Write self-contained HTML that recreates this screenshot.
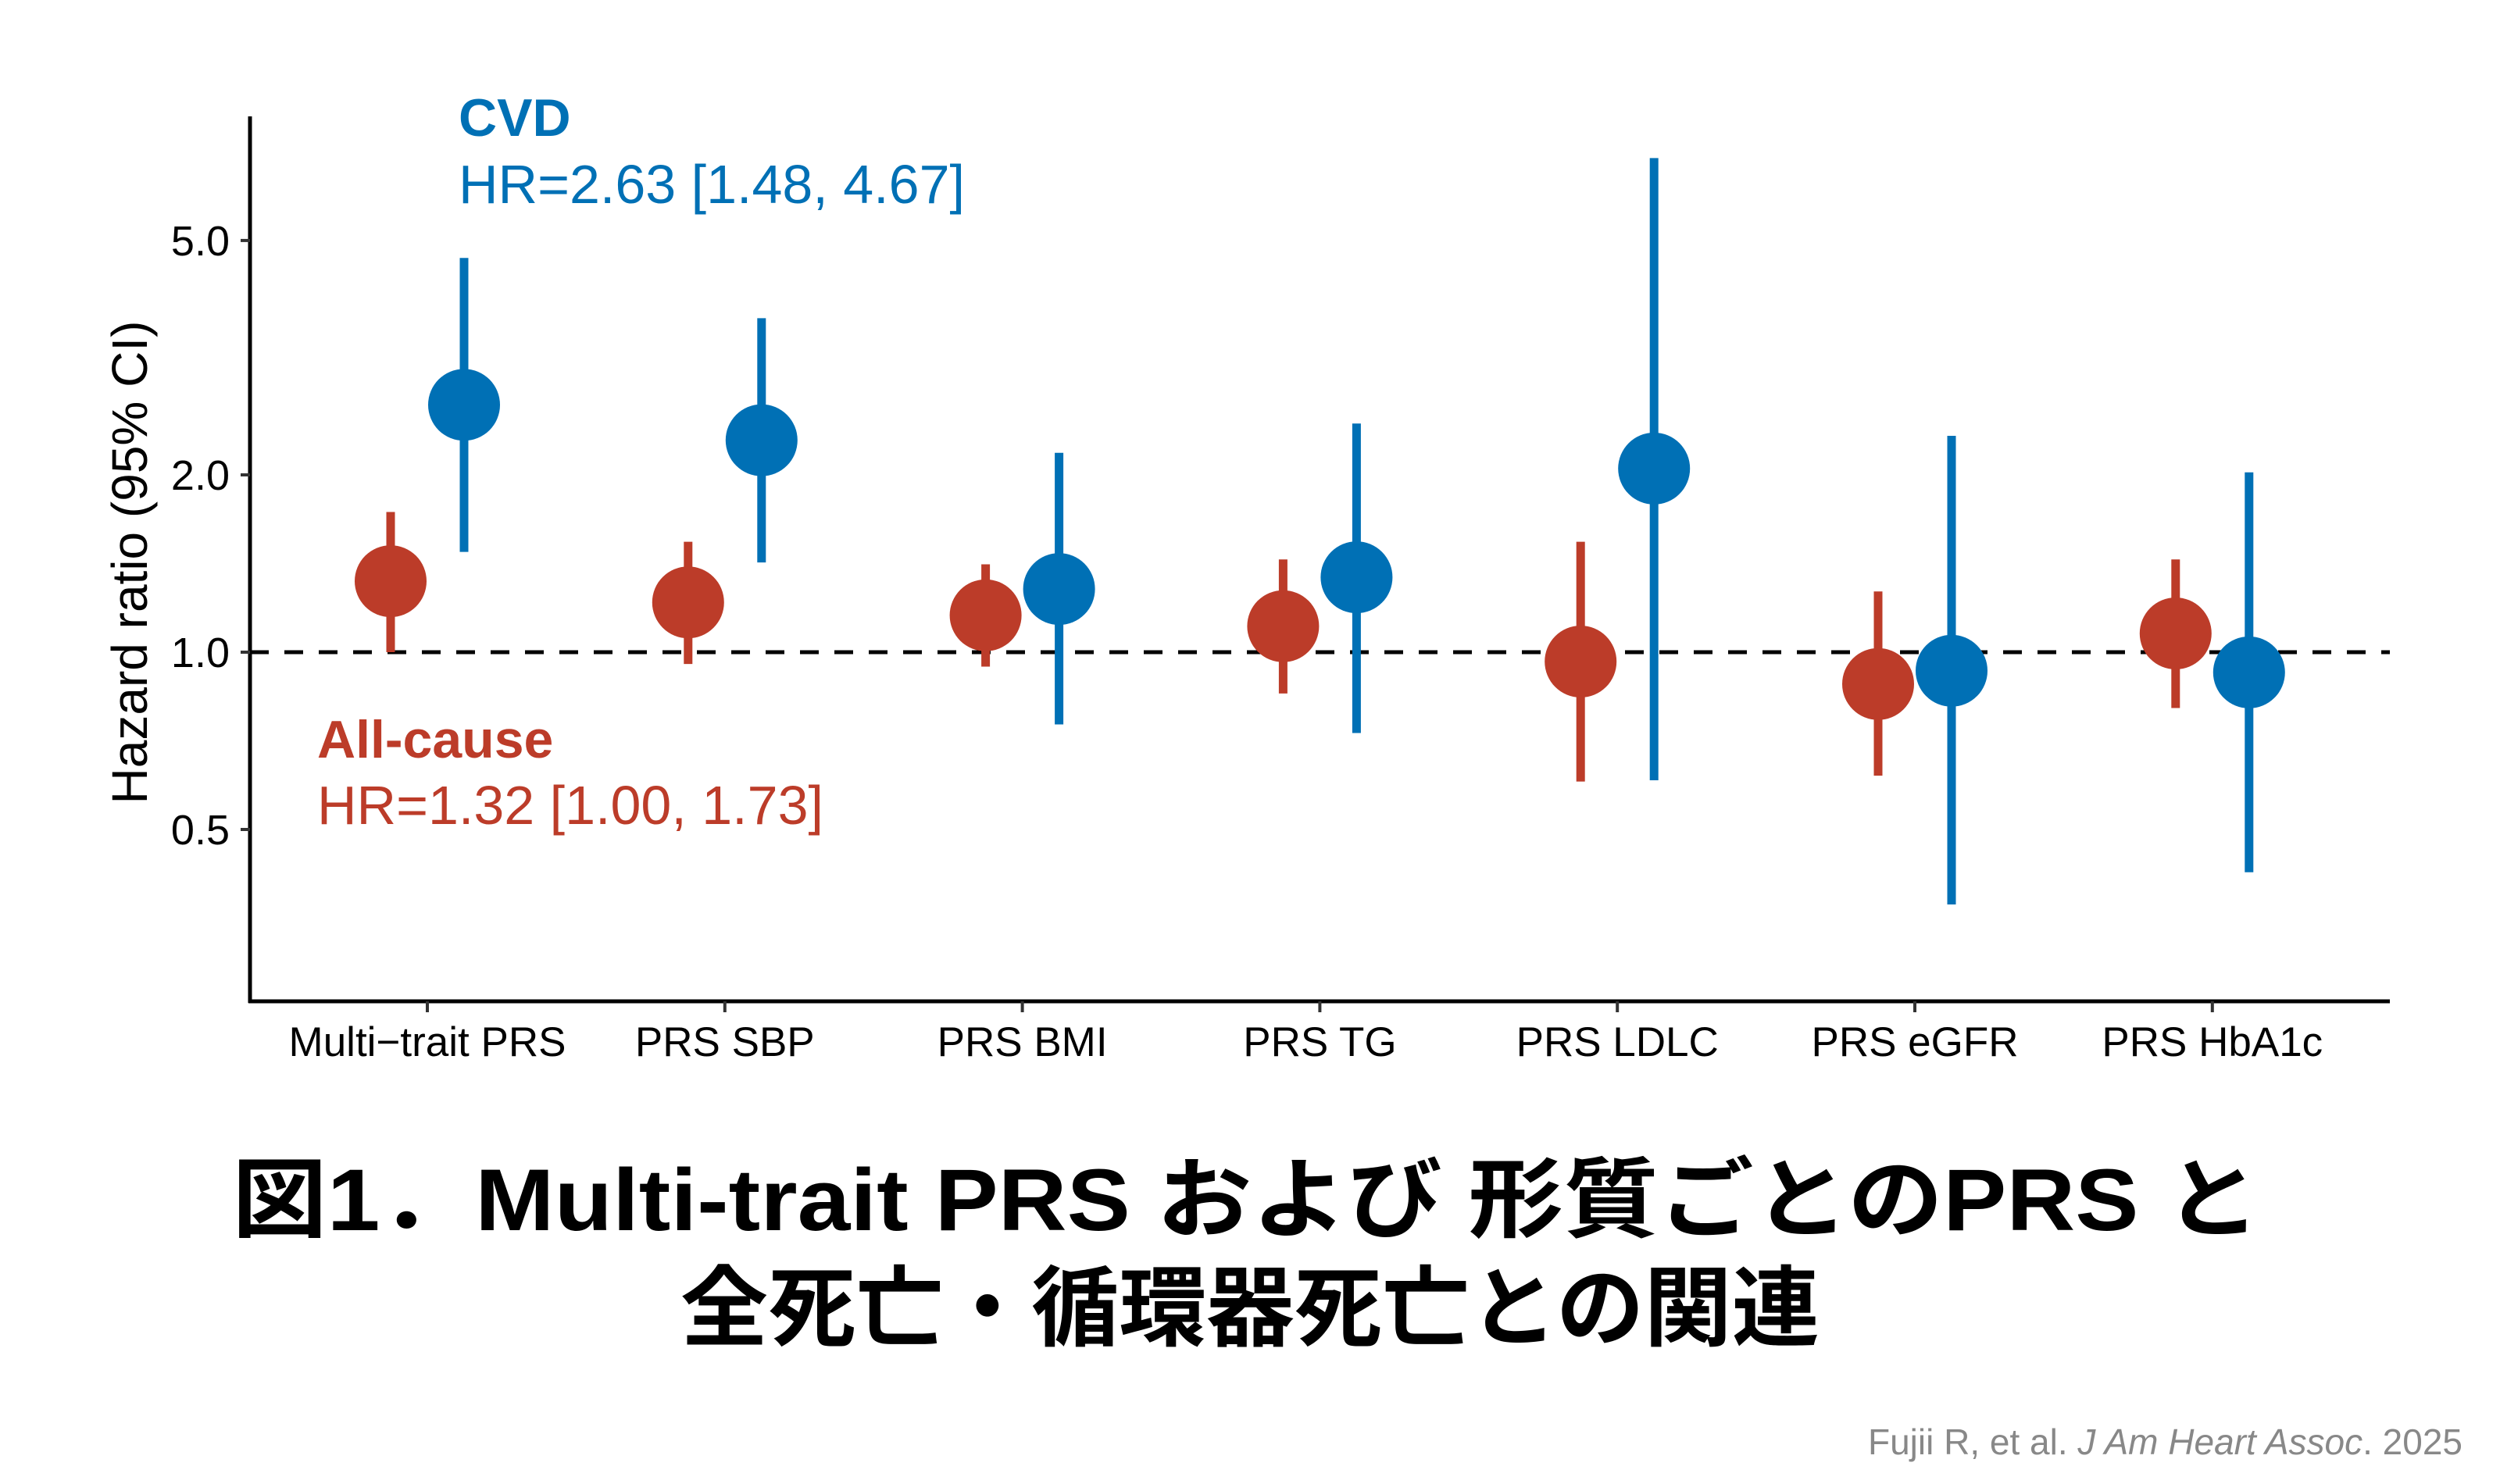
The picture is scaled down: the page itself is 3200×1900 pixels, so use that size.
<!DOCTYPE html>
<html><head><meta charset="utf-8"><style>
html,body{margin:0;padding:0;background:#fff;}
svg{display:block;font-family:"Liberation Sans","Noto Sans CJK JP",sans-serif;}
</style></head><body>
<svg id="chart" width="3200" height="1900" viewBox="0 0 3200 1900" xmlns="http://www.w3.org/2000/svg">
<rect width="3200" height="1900" fill="#fff"/>
<g id="grid"></g>
<g id="axes"></g>
<g id="marks"></g>
<text x="587" y="174" font-size="68" font-weight="bold" fill="#0070b5">CVD</text>
<text x="587" y="260" font-size="70" fill="#0070b5">HR=2.63 [1.48, 4.67]</text>
<text x="406" y="970" font-size="68" font-weight="bold" fill="#bc3c29">All-cause</text>
<text x="406" y="1055" font-size="70" fill="#bc3c29">HR=1.32 [1.00, 1.73]</text>
<text transform="translate(188,720) rotate(-90)" text-anchor="middle" font-size="64" fill="#000">Hazard ratio (95% CI)</text>
<text x="297" y="1575" font-size="112" font-weight="bold" textLength="2596" lengthAdjust="spacingAndGlyphs" fill="#000" font-family="'Liberation Sans','Noto Sans CJK JP',sans-serif">図1．Multi-trait PRS および 形質ごとのPRS と</text>
<text x="871" y="1714" font-size="112" font-weight="bold" textLength="1458" lengthAdjust="spacingAndGlyphs" fill="#000" font-family="'Noto Sans CJK JP',sans-serif">全死亡・循環器死亡との関連</text>
<text x="3152" y="1862" text-anchor="end" font-size="46" fill="#888">Fujii R, et al. <tspan font-style="italic">J Am Heart Assoc</tspan>. 2025</text>
</svg>
<script>
const categories = ["Multi\u2212trait PRS","PRS SBP","PRS BMI","PRS TG","PRS LDLC","PRS eGFR","PRS HbA1c"];
const allHR  = [1.32, 1.215, 1.155, 1.107, 0.964, 0.883, 1.076];
const allLo  = [1.00, 0.955, 0.945, 0.851, 0.603, 0.617, 0.804];
const allHi  = [1.73, 1.54, 1.41, 1.437, 1.54, 1.268, 1.437];
const cvdHR  = [2.63, 2.29, 1.28, 1.34, 2.05, 0.93, 0.924];
const cvdLo  = [1.48, 1.42, 0.754, 0.729, 0.606, 0.373, 0.423];
const cvdHi  = [4.67, 3.69, 2.18, 2.445, 6.9, 2.33, 2.02];
const yTicks = [0.5, 1.0, 2.0, 5.0];
const yTickLabels = ["0.5","1.0","2.0","5.0"];

const NS="http://www.w3.org/2000/svg";
const X0=320, X1=3059, Y0=149, YB=1282;
function yScale(v){ return 835 - 327.5*Math.log(v); }
function xScale(i){ return 547 + i*380.8; }
function mk(tag, attrs, parent){ const e=document.createElementNS(NS,tag); for(const k in attrs) e.setAttribute(k,attrs[k]); parent.appendChild(e); return e; }
const axes=document.getElementById('axes'), marks=document.getElementById('marks'), grid=document.getElementById('grid');

let ref=mk('line',{x1:X0,x2:X1,y1:yScale(1),y2:yScale(1),stroke:'#000','stroke-width':5,'stroke-dasharray':'24 20'},grid);



let ya=mk('line',{x1:X0,x2:X0,y1:Y0,y2:YB+2,stroke:'#000','stroke-width':5},axes);


let xa=mk('line',{x1:X0-2,x2:X1,y1:YB,y2:YB,stroke:'#000','stroke-width':5},axes);



yTicks.forEach((t,i)=>{
  const y=yScale(t);
  const tk=mk('line',{x1:X0-12,x2:X0,y1:y,y2:y,stroke:'#333','stroke-width':4},axes);
  
  
  const tx=mk('text',{x:X0-26,y:y+19,'text-anchor':'end','font-size':54,fill:'#000'},axes);
  tx.textContent=yTickLabels[i];
  
  
});

categories.forEach((c,i)=>{
  const x=xScale(i);
  const tk=mk('line',{x1:x,x2:x,y1:YB,y2:YB+14,stroke:'#333','stroke-width':4},axes);
  
  
  const tx=mk('text',{x:x,y:1352,'text-anchor':'middle','font-size':53,fill:'#000'},axes);
  tx.textContent=c;
  
  

  const xr=x-47, xb=x+47;
  const lr=mk('line',{x1:xr,x2:xr,y1:yScale(allHi[i]),y2:yScale(allLo[i]),stroke:'#bc3c29','stroke-width':11},marks);
  
  
  const pr=mk('ellipse',{cx:xr,cy:yScale(allHR[i]),rx:46,ry:46,fill:'#bc3c29'},marks);
  
  
  const lb=mk('line',{x1:xb,x2:xb,y1:yScale(cvdHi[i]),y2:yScale(cvdLo[i]),stroke:'#0070b5','stroke-width':11},marks);
  
  
  const pb=mk('ellipse',{cx:xb,cy:yScale(cvdHR[i]),rx:46,ry:46,fill:'#0070b5'},marks);
  
  
});
</script>
</body></html>
